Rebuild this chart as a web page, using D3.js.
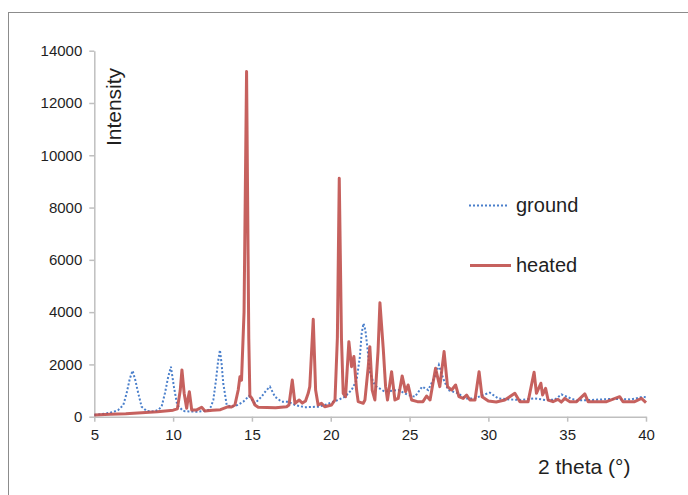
<!DOCTYPE html>
<html>
<head>
<meta charset="utf-8">
<script src="https://cdn.jsdelivr.net/npm/d3@7"></script>
<style>
  body { margin: 0; background: #fff; }
  svg { font-family: "Liberation Sans", Arial, sans-serif; }
  .axis path, .axis line { stroke: #bfbfbf; stroke-width: 1.5; }
  .axis text { fill: #1f1f1f; font-size: 15px; }
</style>
</head>
<body>
<script>
// data
const groundTheta = [5, 5.5, 5.8, 6.2, 6.52, 6.84, 7.05, 7.25, 7.43, 7.6, 7.79, 8, 8.32, 8.6, 8.85, 9.05, 9.27, 9.48, 9.68, 9.86, 10.05, 10.26, 10.64, 11, 11.5, 12, 12.23, 12.4, 12.55, 12.72, 12.85, 12.97, 13.08, 13.18, 13.4, 13.71, 14.1, 14.45, 14.81, 15.19, 15.61, 15.9, 16.14, 16.46, 16.88, 17.3, 17.73, 18.36, 19.2, 19.62, 20.05, 20.47, 20.9, 21.32, 21.64, 21.85, 21.96, 22.08, 22.2, 22.33, 22.48, 22.69, 22.9, 23.43, 24.28, 24.91, 25.34, 25.8, 26.18, 26.6, 26.86, 27.13, 27.45, 28.08, 28.5, 29.14, 29.67, 30.09, 30.62, 31.36, 32, 32.96, 33.6, 34.2, 34.64, 35.06, 35.6, 36.5, 37.8, 39.07, 39.8, 40];
const groundI = [65, 100, 130, 180, 256, 447, 895, 1450, 1760, 1400, 895, 383, 218, 200, 210, 260, 383, 895, 1500, 1910, 1150, 447, 218, 200, 190, 220, 256, 380, 640, 1400, 2100, 2550, 2000, 1280, 447, 383, 450, 575, 790, 512, 765, 1000, 1150, 765, 575, 575, 447, 360, 383, 447, 550, 640, 765, 1020, 1400, 2300, 3190, 3570, 3300, 2615, 1720, 1330, 1150, 957, 1020, 830, 765, 1150, 1020, 1530, 1980, 1470, 1020, 895, 700, 700, 830, 920, 700, 660, 640, 700, 640, 650, 850, 740, 620, 640, 680, 660, 765, 740];

const heatedTheta = [5, 6, 7, 8, 9, 10, 10.27, 10.45, 10.56, 10.7, 10.86, 10.95, 11.03, 11.18, 11.5, 11.81, 12.02, 12.5, 13, 13.5, 13.7, 13.92, 14.13, 14.24, 14.34, 14.5, 14.66, 14.8, 14.87, 15, 15.19, 15.4, 16.5, 17.2, 17.35, 17.56, 17.73, 18, 18.2, 18.4, 18.57, 18.67, 18.89, 19.04, 19.2, 19.41, 19.62, 20.05, 20.27, 20.42, 20.54, 20.68, 20.79, 20.94, 21.15, 21.32, 21.47, 21.64, 21.74, 22.06, 22.17, 22.38, 22.48, 22.63, 22.8, 23, 23.12, 23.33, 23.48, 23.6, 23.86, 24.07, 24.28, 24.53, 24.75, 24.91, 25.13, 25.5, 25.85, 26.08, 26.3, 26.65, 26.92, 27.19, 27.41, 27.67, 27.92, 28.13, 28.4, 28.62, 28.83, 29.15, 29.41, 29.6, 30, 30.5, 31.04, 31.68, 32, 32.52, 32.9, 33.05, 33.33, 33.44, 33.63, 33.79, 34.1, 34.42, 34.63, 34.85, 35.17, 35.6, 36.12, 36.33, 37.5, 38.33, 38.54, 39.28, 39.71, 40];
const heatedI = [65, 90, 110, 150, 190, 250, 300, 1000, 1790, 900, 320, 700, 956, 256, 260, 360, 218, 250, 270, 383, 370, 447, 1020, 1530, 1400, 4000, 13200, 3000, 800, 700, 447, 360, 340, 380, 447, 1400, 512, 640, 520, 600, 895, 1150, 3725, 1020, 447, 512, 383, 447, 640, 3000, 9120, 3000, 895, 765, 2870, 1913, 2300, 1020, 575, 512, 640, 1913, 2680, 1020, 640, 2500, 4360, 2615, 1150, 640, 1720, 640, 700, 1560, 957, 1213, 640, 575, 575, 790, 640, 1850, 1150, 2490, 1150, 1020, 1213, 765, 700, 830, 640, 640, 1720, 765, 600, 560, 640, 895, 575, 575, 1700, 895, 1280, 830, 1085, 640, 575, 660, 560, 700, 575, 575, 870, 575, 575, 765, 575, 575, 700, 540];

const xTicks = [5, 10, 15, 20, 25, 30, 35, 40];
const yTicks = [0, 2000, 4000, 6000, 8000, 10000, 12000, 14000];

const ground = groundTheta.map((t, i) => [t, groundI[i]]);
const heated = heatedTheta.map((t, i) => [t, heatedI[i]]);

const svg = d3.select("body").append("svg").attr("width", 688).attr("height", 495);

// outer frame
svg.append("rect").attr("x", 8.5).attr("y", 12.5).attr("width", 700).attr("height", 500)
  .attr("fill", "none").attr("stroke", "#8c8c8c").attr("stroke-width", 1);

const x = d3.scaleLinear().domain([5, 40]).range([94.3, 646]);
const y = d3.scaleLinear().domain([0, 14000]).range([416.7, 50.7]);

svg.append("g").attr("class", "axis").attr("transform", "translate(0,416.7)")
  .call(d3.axisBottom(x).tickValues(xTicks).tickSize(5).tickPadding(8).tickSizeOuter(0));
svg.append("g").attr("class", "axis").attr("transform", "translate(94.3,0)")
  .call(d3.axisLeft(y).tickValues(yTicks).tickSize(5).tickPadding(7).tickSizeOuter(0).tickFormat(d3.format("d")));

const line = d3.line().x(d => x(d[0])).y(d => y(d[1]));

svg.append("path").datum(ground).attr("d", line)
  .attr("fill", "none").attr("stroke", "#4a7fcb").attr("stroke-width", 2)
  .attr("stroke-dasharray", "2,2");

svg.append("path").datum(heated).attr("d", line)
  .attr("fill", "none").attr("stroke", "#c0504d").attr("stroke-width", 3)
  .attr("stroke-linejoin", "round").attr("opacity", 0.9);

// legend
svg.append("line").attr("x1", 469).attr("x2", 509).attr("y1", 205.5).attr("y2", 205.5)
  .attr("stroke", "#4a7fcb").attr("stroke-width", 2).attr("stroke-dasharray", "2,2");
svg.append("text").attr("x", 516).attr("y", 212).text("ground")
  .attr("font-size", 20).attr("fill", "#1f1f1f");
svg.append("line").attr("x1", 470).attr("x2", 511).attr("y1", 265.5).attr("y2", 265.5)
  .attr("stroke", "#c0504d").attr("stroke-width", 3).attr("opacity", 0.9);
svg.append("text").attr("x", 516).attr("y", 272).text("heated")
  .attr("font-size", 20).attr("fill", "#1f1f1f");

// axis titles
svg.append("text").attr("x", 538).attr("y", 474).text("2 theta (°)")
  .attr("font-size", 21).attr("fill", "#1f1f1f");
svg.append("text").attr("transform", "translate(121,107) rotate(-90)")
  .attr("text-anchor", "middle").text("Intensity")
  .attr("font-size", 21).attr("fill", "#1f1f1f");
</script>
</body>
</html>
